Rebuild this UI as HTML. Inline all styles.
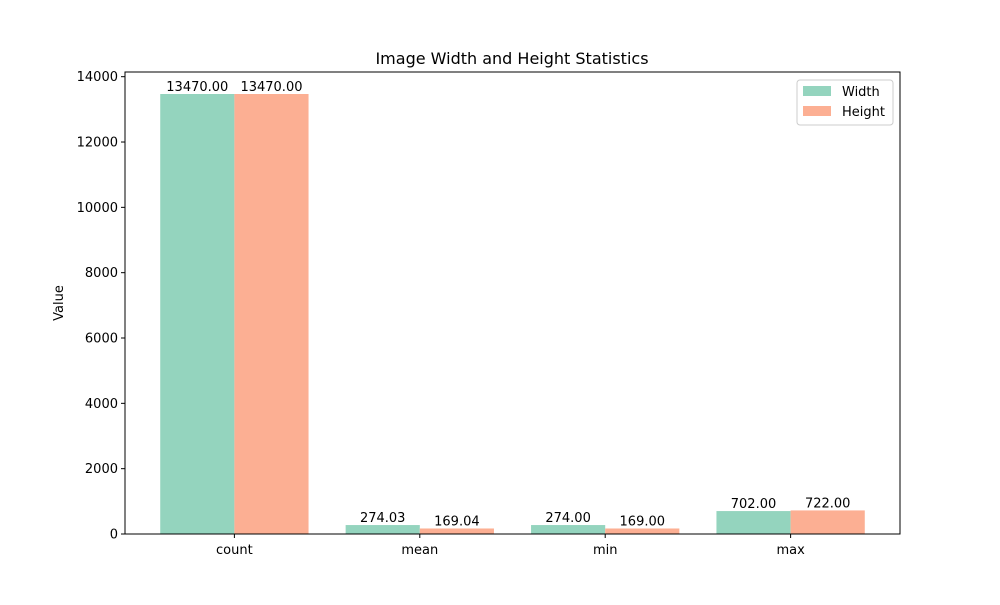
<!DOCTYPE html>
<html><head><meta charset="utf-8"><style>
body{margin:0;background:#fff}
svg text{font-family:"DejaVu Sans","Liberation Sans",sans-serif;fill:#000}
</style></head><body>
<svg id="c" width="1000" height="600" xmlns="http://www.w3.org/2000/svg">
<rect width="1000" height="600" fill="#fff"/>
<text x="512" y="64" font-size="16" text-anchor="middle">Image Width and Height Statistics</text>
<text transform="translate(63,303) rotate(-90)" font-size="13" text-anchor="middle">Value</text>
<g id="marks"></g>
<rect x="125" y="72" width="775" height="462" fill="none" stroke="#000" stroke-width="1"/>
<g>
<rect x="797" y="80" width="96" height="45" rx="3" fill="#fff" stroke="#ccc"/>
<rect x="803" y="86" width="28" height="10" fill="#94d4be"/>
<text x="842" y="96" font-size="13">Width</text>
<rect x="803" y="106" width="28" height="10" fill="#fcaf93"/>
<text x="842" y="116" font-size="13">Height</text>
</g>
</svg>
<script>
const categories=["count","mean","min","max"];
const widthValues=[13470,274.03,274,702];
const heightValues=[13470,169.04,169,722];
const yTicks=[0,2000,4000,6000,8000,10000,12000,14000];
const L=125,R=900,T=72,B=534;
const ymax=Math.max(...widthValues,...heightValues)*1.05;
const xmin=-0.59,xmax=categories.length-1+0.59;
const X=v=>L+(v-xmin)/(xmax-xmin)*(R-L);
const Y=v=>B-v/ymax*(B-T);
const g=document.getElementById('marks');
const NS="http://www.w3.org/2000/svg";
function mk(t,a){const e=document.createElementNS(NS,t);for(const k in a)e.setAttribute(k,a[k]);g.appendChild(e);return e;}
yTicks.forEach(v=>{
 const l=mk('line',{x1:L-4,x2:L,y1:Y(v),y2:Y(v),stroke:'#000'});
 
 
 const t=mk('text',{x:L-7,y:Y(v)+4.5,'font-size':13,'text-anchor':'end'});t.textContent=v;
 
 
});
categories.forEach((c,i)=>{
 const l=mk('line',{x1:X(i),x2:X(i),y1:B,y2:B+4,stroke:'#000'});
 
 
 const t=mk('text',{x:X(i),y:B+20,'font-size':13,'text-anchor':'middle'});t.textContent=c;
 
 
 [[widthValues,-0.4,'#94d4be','width'],[heightValues,0,'#fcaf93','height']].forEach(([arr,off,col,nm])=>{
  const v=arr[i];
  const r=mk('rect',{x:X(i+off),y:Y(v),width:X(i+off+0.4)-X(i+off),height:B-Y(v),fill:col});
  
  
  const lb=mk('text',{x:X(i+off+0.2),y:Y(v)-3,'font-size':13,'text-anchor':'middle'});lb.textContent=v.toFixed(2);
  
  
 });
});
</script>
</body></html>
